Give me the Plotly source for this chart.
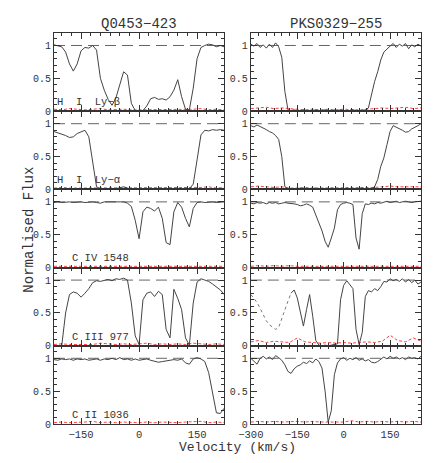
import plotly.graph_objects as go
from plotly.subplots import make_subplots

# velocity grids (km/s)
vel_q = list(range(-220, 221, 10))
vel_p = list(range(-300, 251, 10))
err_vel_q = list(range(-220, 221, 20))
err_vel_p = list(range(-300, 251, 25))

titles = ["Q0453\u2212423", "PKS0329\u2212255"]
labels = ["H  I  Ly\u2212\u03b2", "H  I  Ly\u2212\u03b1", "C IV 1548", "C III 977", "C II 1036"]

# Q0453-423 normalised flux
q_lyb = [1.01, 1.00, 0.98, 0.90, 0.72, 0.61, 0.72, 0.92, 0.97, 0.96, 1.00, 0.93, 0.50, 0.32,
         0.18, 0.09, 0.20, 0.40, 0.60, 0.55, 0.12, 0.01, 0.00, 0.01, 0.08, 0.19, 0.21, 0.18,
         0.19, 0.17, 0.22, 0.32, 0.48, 0.22, 0.03, 0.02, 0.35, 0.80, 0.97, 1.00, 1.02, 1.01,
         0.98, 1.00, 0.98]
q_lya = [0.88, 0.86, 0.85, 0.82, 0.79, 0.80, 0.85, 0.88, 0.90, 0.80, 0.45, 0.04, 0.01, 0.00,
         0.01, 0.00, 0.01, 0.02, 0.04, 0.02, 0.00, 0.01, 0.00, 0.01, 0.00, 0.01, 0.00, 0.01,
         0.00, 0.01, 0.00, 0.01, 0.00, 0.01, 0.00, 0.01, 0.08, 0.45, 0.83, 0.90, 0.89, 0.91,
         0.90, 0.91, 0.90]
q_civ = [0.99, 1.00, 0.99, 1.00, 1.00, 0.99, 1.00, 1.00, 0.99, 1.00, 1.00, 0.99, 0.98, 1.00,
         1.00, 1.00, 1.00, 0.99, 1.00, 0.98, 0.93, 0.72, 0.44, 0.85, 0.92, 0.90, 0.86, 0.92,
         0.75, 0.38, 0.35, 0.85, 0.99, 0.92, 0.75, 0.62, 0.90, 0.99, 1.00, 0.99, 1.00, 1.00,
         0.99, 1.00, 1.00]
q_ciii = [None, None, 0.00, 0.50, 0.78, 0.82, 0.80, 0.74, 0.80, 0.87, 0.96, 0.99, 0.98, 1.00,
          1.01, 0.99, 1.02, 1.01, 1.03, 1.00, 0.65, 0.15, 0.02, 0.70, 0.80, 0.82, 0.75, 0.83,
          0.78, 0.25, 0.12, 0.86, 0.72, 0.55, 0.12, 0.01, 0.65, 0.97, 1.02, 1.00, 0.98, 0.94,
          0.90, 0.85, 0.78]
q_cii = [0.98, 0.97, 0.99, 0.98, 0.99, 0.97, 0.99, 0.98, 0.99, 0.97, 0.98, 0.99, 0.97, 0.99,
         0.98, 1.00, 0.98, 1.01, 0.98, 0.99, 0.97, 0.99, 0.97, 0.98, 0.99, 0.97, 0.95, 0.94,
         0.95, 0.96, 0.96, 0.98, 0.97, 0.99, 0.93, 0.91, 0.99, 1.01, 0.99, 0.95, 0.78, 0.45,
         0.17, 0.16, 0.24]

# PKS0329-255 normalised flux
p_lyb = [1.02, 0.99, 1.03, 0.97, 1.01, 0.96, 1.02, 0.97, 1.04, 0.98, 0.82, 0.30, 0.02, 0.01,
         0.02, 0.01, 0.00, 0.02, 0.01, 0.00, 0.01, 0.02, 0.00, 0.01, 0.02, 0.01, 0.00, 0.02,
         0.01, 0.02, 0.01, 0.00, 0.01, 0.02, 0.01, 0.00, 0.01, 0.02, 0.05, 0.25, 0.45, 0.60,
         0.78, 0.90, 0.95, 0.99, 1.03, 0.97, 1.02, 0.99, 1.03, 0.95, 1.01, 0.98, 1.02, 0.99]
p_lya = [0.97, 0.95, 0.98, 0.96, 0.94, 0.91, 0.88, 0.86, 0.82, 0.76, 0.50, 0.04, 0.01, 0.01,
         0.00, 0.01, 0.02, 0.01, 0.00, 0.01, 0.01, 0.02, 0.00, 0.01, 0.01, 0.00, 0.02, 0.01,
         0.01, 0.00, 0.01, 0.02, 0.01, 0.00, 0.01, 0.01, 0.02, 0.00, 0.01, 0.01, 0.04, 0.15,
         0.35, 0.48, 0.68, 0.88, 0.97, 0.95, 0.93, 0.90, 0.87, 0.88, 0.92, 0.94, 0.97, 1.00]
p_civ = [0.98, 0.97, 0.99, 0.98, 0.99, 0.97, 0.99, 0.98, 0.99, 0.97, 0.98, 0.99, 0.98, 0.98,
         0.97, 0.96, 0.94, 0.95, 0.97, 0.95, 0.92, 0.80, 0.68, 0.56, 0.40, 0.31, 0.45, 0.60,
         0.88, 0.96, 0.98, 0.99, 0.98, 0.96, 0.45, 0.28, 0.82, 0.97, 0.96, 0.98, 0.97, 0.99,
         0.98, 1.00, 1.01, 0.99, 1.00, 1.01, 0.99, 1.00, 1.01, 1.00, 0.99, 1.00, 1.00, 1.01]
p_ciii_blend = [0.78, 0.72, 0.66, 0.57, 0.47, 0.38, 0.32, 0.28, 0.25, 0.28, 0.42, 0.55, 0.68,
                0.80]
p_ciii = [None] * 13 + [0.80, 0.85, 0.73, 0.50, 0.30, 0.55, 0.78, 0.45, 0.08, 0.01, 0.00, 0.01,
          0.00, 0.01, 0.02, 0.03, 0.70, 0.92, 0.99, 0.92, 0.87, 0.25, 0.02, 0.20, 0.75, 0.84,
          0.82, 0.87, 0.84, 0.90, 0.98, 0.97, 1.02, 0.99, 1.01, 0.98, 1.02, 0.97, 1.01, 0.96,
          1.00, 0.94, 0.97]
p_cii = [1.00, 0.95, 0.91, 1.00, 1.03, 0.99, 1.02, 0.98, 1.04, 1.01, 0.97, 0.90, 0.80, 0.77,
         0.84, 0.88, 0.90, 0.94, 0.92, 0.96, 0.93, 0.99, 0.95, 0.85, 0.50, 0.03, 0.20, 0.75,
         0.93, 0.99, 1.01, 0.97, 1.00, 0.98, 1.01, 0.97, 0.99, 0.96, 0.98, 0.94, 0.93, 0.95,
         0.99, 1.02, 0.99, 1.03, 1.00, 1.02, 0.99, 1.01, 0.98, 1.02, 1.00, 1.01, 0.99, 1.03]

# error arrays
q_err = [
    [0.03, 0.02, 0.04, 0.03, 0.02, 0.03, 0.04, 0.02, 0.03, 0.03, 0.02, 0.02, 0.03, 0.02, 0.03,
     0.02, 0.03, 0.02, 0.03, 0.04, 0.02, 0.03, 0.02],
    [0.02, 0.03, 0.02, 0.02, 0.03, 0.02, 0.02, 0.03, 0.02, 0.03, 0.02, 0.02, 0.02, 0.03, 0.02,
     0.02, 0.03, 0.02, 0.02, 0.03, 0.04, 0.02, 0.03],
    [0.02, 0.02, 0.03, 0.02, 0.02, 0.02, 0.03, 0.02, 0.02, 0.02, 0.02, 0.03, 0.02, 0.02, 0.02,
     0.03, 0.02, 0.02, 0.02, 0.02, 0.03, 0.02, 0.02],
    [0.02, 0.03, 0.02, 0.02, 0.03, 0.02, 0.04, 0.03, 0.02, 0.03, 0.02, 0.03, 0.04, 0.02, 0.03,
     0.02, 0.03, 0.02, 0.04, 0.03, 0.02, 0.03, 0.02],
    [0.02, 0.03, 0.02, 0.02, 0.03, 0.04, 0.02, 0.03, 0.02, 0.03, 0.02, 0.02, 0.03, 0.02, 0.03,
     0.02, 0.02, 0.03, 0.03, 0.04, 0.02, 0.03, 0.02],
]
p_err = [
    [0.04, 0.05, 0.06, 0.04, 0.05, 0.04, 0.03, 0.02, 0.03, 0.02, 0.03, 0.02, 0.03, 0.02, 0.02,
     0.03, 0.04, 0.05, 0.04, 0.05, 0.06, 0.04, 0.05],
    [0.04, 0.05, 0.04, 0.03, 0.04, 0.02, 0.02, 0.03, 0.02, 0.02, 0.02, 0.03, 0.02, 0.02, 0.02,
     0.02, 0.03, 0.04, 0.05, 0.04, 0.04, 0.05, 0.04],
    [0.02, 0.03, 0.02, 0.03, 0.02, 0.03, 0.02, 0.02, 0.03, 0.02, 0.02, 0.03, 0.02, 0.03, 0.02,
     0.02, 0.03, 0.02, 0.03, 0.02, 0.02, 0.03, 0.02],
    [0.06, 0.08, 0.05, 0.07, 0.06, 0.05, 0.12, 0.06, 0.05, 0.04, 0.05, 0.04, 0.05, 0.04, 0.05,
     0.06, 0.05, 0.07, 0.16, 0.08, 0.06, 0.12, 0.07],
    [0.03, 0.04, 0.03, 0.04, 0.03, 0.04, 0.04, 0.03, 0.04, 0.03, 0.03, 0.04, 0.03, 0.05, 0.03,
     0.04, 0.03, 0.04, 0.03, 0.04, 0.03, 0.04, 0.03],
]

q_flux = [q_lyb, q_lya, q_civ, q_ciii, q_cii]
p_flux = [p_lyb, p_lya, p_civ, p_ciii, p_cii]

FONT = "Liberation Mono"
INK = "#333333"

fig = make_subplots(rows=5, cols=2, horizontal_spacing=0.0727, vertical_spacing=0)

for i in range(5):
    r = i + 1
    fig.add_trace(go.Scatter(x=err_vel_q, y=q_err[i], mode="lines",
                             line=dict(color="#ff4040", width=1, dash="3px,2px")), row=r, col=1)
    fig.add_trace(go.Scatter(x=vel_q, y=q_flux[i], mode="lines",
                             line=dict(color="#444444", width=1)), row=r, col=1)
    fig.add_trace(go.Scatter(x=err_vel_p, y=p_err[i], mode="lines",
                             line=dict(color="#ff4040", width=1, dash="3px,2px")), row=r, col=2)
    if i == 3:
        fig.add_trace(go.Scatter(x=vel_p[:14], y=p_ciii_blend, mode="lines",
                                 line=dict(color="#777777", width=1, dash="dot")), row=r, col=2)
    fig.add_trace(go.Scatter(x=vel_p, y=p_flux[i], mode="lines",
                             line=dict(color="#444444", width=1)), row=r, col=2)
    for c in (1, 2):
        fig.add_hline(y=1, row=r, col=c, layer="below",
                      line=dict(color="#666666", width=1, dash="11px,6px"))

    n = 2 * i + 1
    fig.add_annotation(x=-218 if i < 2 else -178, y=0.14, xref="x%d" % n, yref="y%d" % n,
                       text=labels[i], showarrow=False, xanchor="left", yanchor="middle",
                       font=dict(family=FONT, size=10.5, color=INK))

axis_common = dict(showline=True, linecolor="#333333", linewidth=1, mirror="ticks",
                   ticks="inside", ticklen=6, tickcolor="#333333", showgrid=False,
                   zeroline=False)

fig.update_yaxes(range=[0, 1.19], tickvals=[0, 0.5, 1], ticktext=["0", "0.5", "1"],
                 tickfont=dict(family=FONT, size=10, color=INK),
                 minor=dict(ticks="inside", dtick=0.1, tick0=0, ticklen=3,
                            tickcolor="#333333", showgrid=False),
                 **axis_common)
fig.update_xaxes(tickmode="linear", dtick=150, tick0=0, ticklabelstandoff=0,
                 tickfont=dict(family=FONT, size=10.5, color=INK),
                 minor=dict(ticks="inside", dtick=25, tick0=0, ticklen=3,
                            tickcolor="#333333", showgrid=False),
                 **axis_common)
fig.update_xaxes(range=[-220, 220], col=1)
fig.update_xaxes(range=[-300, 250], col=2)
for r in range(1, 5):
    fig.update_xaxes(showticklabels=False, row=r)

fig.add_annotation(x=0.5, y=1, xref="x domain", yref="y domain", yshift=-1,
                   text=titles[0], showarrow=False, yanchor="bottom",
                   font=dict(family=FONT, size=14, color=INK))
fig.add_annotation(x=0.5, y=1, xref="x2 domain", yref="y2 domain", yshift=-1,
                   text=titles[1], showarrow=False, yanchor="bottom",
                   font=dict(family=FONT, size=14, color=INK))
fig.add_annotation(x=11, y=222, xref="paper", yref="paper", text="Normalised Flux",
                   showarrow=False, textangle=-90,
                   font=dict(family=FONT, size=14, color=INK))
fig.add_annotation(x=229, y=449, xref="paper", yref="paper", text="Velocity (km/s)",
                   showarrow=False, font=dict(family=FONT, size=13, color=INK))

fig.update_layout(width=436, height=463, margin=dict(l=45.5, r=23.3, t=24.7, b=47),
                  plot_bgcolor="white", paper_bgcolor="white", showlegend=False,
                  font=dict(family=FONT, color=INK))

# paper annotations above use pixel positions; convert to paper fractions
pw = 436 - 45.5 - 23.3
ph = 463 - 24.7 - 47
for a in fig.layout.annotations:
    if a.xref == "paper" and a.yref == "paper":
        a.x = (a.x - 45.5) / pw
        a.y = 1 - (a.y - 24.7) / ph

fig.write_html("out.html")
